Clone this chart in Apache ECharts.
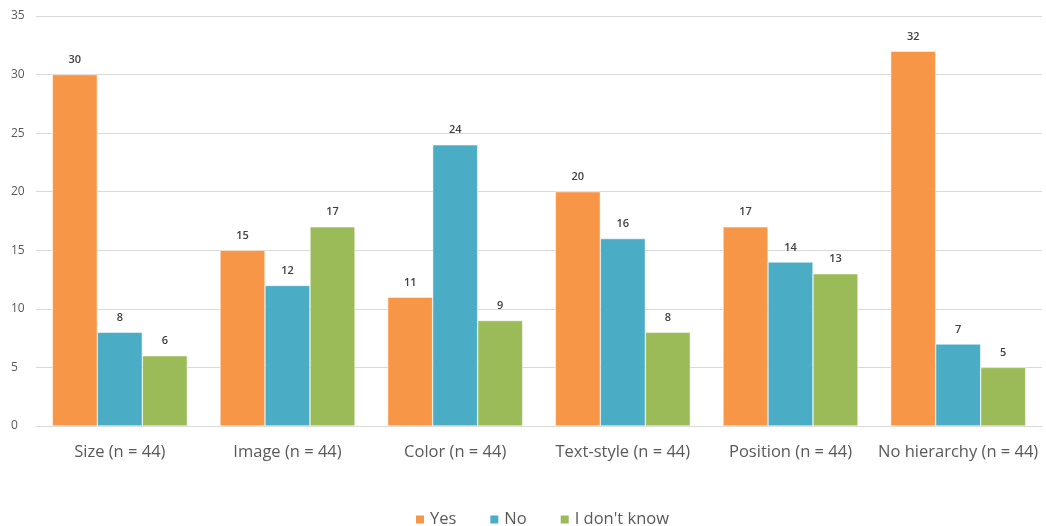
<!DOCTYPE html>
<html><head><meta charset="utf-8">
<script src="https://cdn.jsdelivr.net/npm/echarts@6/dist/echarts.min.js"></script>
<style>html,body{margin:0;padding:0;background:#fff}#c{width:1046px;height:526px}</style>
</head><body><div id="c"></div>
<script>
const categories = ['Size (n = 44)','Image (n = 44)','Color (n = 44)','Text-style (n = 44)','Position (n = 44)','No hierarchy (n = 44)'];
const yesValues = [30,15,11,20,17,32];
const noValues = [8,12,24,16,14,7];
const dontKnowValues = [6,17,9,8,13,5];
const seriesNames = ['Yes','No',"I don't know"];
const colors = ['#F79646','#4BACC6','#9BBB59'];

const font = "'Open Sans', 'Noto Sans', sans-serif";
const chart = echarts.init(document.getElementById('c'));
const mk = (name, data, color) => ({
  name, type:'bar', data, barWidth:45, barGap:'0%',
  itemStyle:{color, borderColor:'#fff', borderWidth:0.5},
  label:{show:true, position:'top', color:'#404040', fontSize:11, fontWeight:600, fontFamily:font, distance:9},
  emphasis:{disabled:true}
});
chart.setOption({
  animation:false,
  textStyle:{fontFamily:font},
  grid:{left:36, right:4, top:16, bottom:100},
  legend:{top:511, left:414, padding:[0,0,0,0], itemWidth:10, itemHeight:10, itemGap:32,
    icon:'rect', textStyle:{fontSize:16.5, color:'#595959', fontFamily:font}, data:seriesNames},
  xAxis:{type:'category', data:categories,
    axisLine:{lineStyle:{color:'#d9d9d9'}}, axisTick:{show:false},
    axisLabel:{interval:0, fontSize:16.5, color:'#595959', margin:18, fontFamily:font}},
  yAxis:{type:'value', min:0, max:35, interval:5,
    axisLine:{show:false}, axisTick:{show:false},
    axisLabel:{fontSize:12, color:'#595959', margin:25, align:'left', fontFamily:font},
    splitLine:{lineStyle:{color:'#d9d9d9'}}},
  series:[mk(seriesNames[0], yesValues, colors[0]), mk(seriesNames[1], noValues, colors[1]), mk(seriesNames[2], dontKnowValues, colors[2])]
});
</script></body></html>
